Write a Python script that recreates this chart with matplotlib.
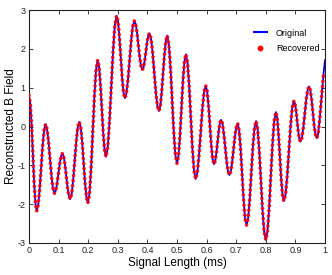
import matplotlib
matplotlib.use("Agg")
import matplotlib.pyplot as plt
from matplotlib.lines import Line2D

plt.rcParams['font.family'] = ['Liberation Sans', 'DejaVu Sans']

time_ms = [
    0.000, 0.0043, 0.0087, 0.0130, 0.0173, 0.0217,
    0.026, 0.031, 0.036, 0.041, 0.046, 0.051,
    0.056, 0.061, 0.066, 0.071, 0.076, 0.081,
    0.086, 0.0905, 0.095, 0.0995, 0.104, 0.1085,
    0.113, 0.1173, 0.1217, 0.1260, 0.1303, 0.1347,
    0.139, 0.1442, 0.1493, 0.1545, 0.1597, 0.1648,
    0.170, 0.1748, 0.1797, 0.1845, 0.1893, 0.1942,
    0.199, 0.2045, 0.210, 0.2155, 0.221, 0.2265,
    0.232, 0.2367, 0.2413, 0.246, 0.2507, 0.2553,
    0.260, 0.266, 0.272, 0.278, 0.284, 0.290,
    0.296, 0.3007, 0.3053, 0.310, 0.3147, 0.3193,
    0.324, 0.3293, 0.3347, 0.340, 0.3453, 0.3507,
    0.356, 0.3605, 0.365, 0.3695, 0.374, 0.3785,
    0.383, 0.387, 0.391, 0.395, 0.399, 0.403,
    0.407, 0.4123, 0.4177, 0.423, 0.4283, 0.4337,
    0.439, 0.4437, 0.4483, 0.453, 0.4577, 0.4623,
    0.467, 0.4725, 0.478, 0.4835, 0.489, 0.4945,
    0.500, 0.505, 0.510, 0.515, 0.520, 0.525,
    0.530, 0.5355, 0.541, 0.5465, 0.552, 0.5575,
    0.563, 0.5687, 0.5743, 0.580, 0.5857, 0.5913,
    0.597, 0.6017, 0.6063, 0.611, 0.6157, 0.6203,
    0.625, 0.629, 0.633, 0.637, 0.641, 0.645,
    0.649, 0.6537, 0.6583, 0.663, 0.6677, 0.6723,
    0.677, 0.6817, 0.6863, 0.691, 0.6957, 0.7003,
    0.705, 0.710, 0.715, 0.720, 0.725, 0.730,
    0.735, 0.7403, 0.7457, 0.751, 0.7563, 0.7617,
    0.767, 0.7725, 0.778, 0.7835, 0.789, 0.7945,
    0.800, 0.8057, 0.8113, 0.817, 0.8227, 0.8283,
    0.834, 0.8385, 0.843, 0.8475, 0.852, 0.8565,
    0.861, 0.8667, 0.8723, 0.878, 0.8837, 0.8893,
    0.895, 0.8987, 0.9023, 0.906, 0.9097, 0.9133,
    0.917, 0.9218, 0.9267, 0.9315, 0.9363, 0.9412,
    0.946, 0.9503, 0.9547, 0.959, 0.9633, 0.9677,
    0.972, 0.9767, 0.9813, 0.986, 0.9907, 0.9953,
    1.000,
]

original_field = [
    0.80, 0.60, 0.06, -0.69, -1.44, -1.98,
    -2.18, -2.03, -1.62, -1.06, -0.50, -0.09,
    0.06, -0.06, -0.39, -0.83, -1.28, -1.60,
    -1.72, -1.65, -1.46, -1.21, -0.95, -0.76,
    -0.69, -0.77, -0.99, -1.28, -1.58, -1.79,
    -1.87, -1.74, -1.37, -0.88, -0.38, -0.01,
    0.12, -0.02, -0.40, -0.93, -1.45, -1.83,
    -1.97, -1.72, -1.05, -0.13, 0.79, 1.46,
    1.71, 1.54, 1.09, 0.47, -0.16, -0.61,
    -0.78, -0.54, 0.13, 1.04, 1.94, 2.61,
    2.85, 2.71, 2.32, 1.79, 1.26, 0.87,
    0.73, 0.86, 1.23, 1.73, 2.22, 2.59,
    2.72, 2.64, 2.41, 2.09, 1.78, 1.55,
    1.46, 1.52, 1.70, 1.93, 2.17, 2.34,
    2.40, 2.27, 1.90, 1.40, 0.90, 0.53,
    0.40, 0.53, 0.89, 1.37, 1.86, 2.21,
    2.34, 2.12, 1.52, 0.70, -0.13, -0.73,
    -0.95, -0.76, -0.25, 0.46, 1.16, 1.67,
    1.86, 1.65, 1.06, 0.26, -0.55, -1.14,
    -1.35, -1.19, -0.75, -0.15, 0.45, 0.89,
    1.05, 0.92, 0.55, 0.04, -0.47, -0.84,
    -0.97, -0.89, -0.69, -0.40, -0.12, 0.10,
    0.17, 0.08, -0.19, -0.54, -0.90, -1.16,
    -1.25, -1.16, -0.92, -0.59, -0.25, -0.01,
    0.08, -0.10, -0.58, -1.23, -1.89, -2.37,
    -2.54, -2.36, -1.87, -1.20, -0.53, -0.04,
    0.14, -0.07, -0.63, -1.39, -2.16, -2.72,
    -2.92, -2.70, -2.10, -1.28, -0.45, 0.15,
    0.37, 0.22, -0.20, -0.78, -1.35, -1.77,
    -1.92, -1.75, -1.28, -0.63, 0.02, 0.49,
    0.66, 0.59, 0.40, 0.14, -0.13, -0.32,
    -0.39, -0.30, -0.04, 0.32, 0.68, 0.94,
    1.03, 0.94, 0.70, 0.37, 0.03, -0.21,
    -0.30, -0.20, 0.12, 0.55, 1.00, 1.38,
    1.71,
]

# Recovered samples follow the original but stop just before the end
recovered_time = time_ms[:-1]
recovered_field = original_field[:-1]

x_ticks = [0, 0.1, 0.2, 0.3, 0.4, 0.5, 0.6, 0.7, 0.8, 0.9, 1]
x_tick_labels = ['0', '0.1', '0.2', '0.3', '0.4', '0.5', '0.6', '0.7', '0.8', '0.9', '1']
y_ticks = [-3, -2, -1, 0, 1, 2, 3]
y_tick_labels = ['-3', '-2', '-1', '0', '1', '2', '3']

fig = plt.figure(figsize=(3.32, 2.75), dpi=100)
ax = fig.add_axes([29 / 332, 32 / 275, 296 / 332, 233 / 275])

ax.plot(time_ms, original_field, color='#0000ff', lw=1.3, solid_joinstyle='round', zorder=2)
ax.plot(recovered_time, recovered_field, color='#ff0000', lw=2.7,
        linestyle=(0, (0.001, 1.35)), dash_capstyle='round', alpha=0.85, zorder=3)

ax.set_xlim(0, 1)
ax.set_ylim(-3, 3)
ax.set_xticks(x_ticks)
ax.set_xticklabels(x_tick_labels)
ax.set_yticks(y_ticks)
ax.set_yticklabels(y_tick_labels)
ax.tick_params(direction='in', top=True, right=True, length=3, width=0.6,
               labelsize=6.5, pad=2.5, colors='#222222')
for s in ax.spines.values():
    s.set_linewidth(0.8)
    s.set_color('#222222')

ax.set_xlabel('Signal Length (ms)', fontsize=8.5)
ax.set_ylabel('Reconstructed B Field', fontsize=8.5)
ax.xaxis.set_label_coords(0.5, -0.058)
ax.yaxis.set_label_coords(-0.040, 0.5)

handles = [Line2D([], [], color='#0000ff', lw=1.5),
           Line2D([], [], color='#ff0000', ls='none', marker='o', ms=3.2)]
ax.legend(handles, ['Original', 'Recovered'], loc='upper left',
          bbox_to_anchor=(249 / 332, 1 - 24 / 275), bbox_transform=fig.transFigure,
          frameon=False, fontsize=6.5, handlelength=1.5, handletextpad=1.0,
          borderpad=0, labelspacing=0.75, numpoints=1)

fig.savefig('out.png', dpi=100)
